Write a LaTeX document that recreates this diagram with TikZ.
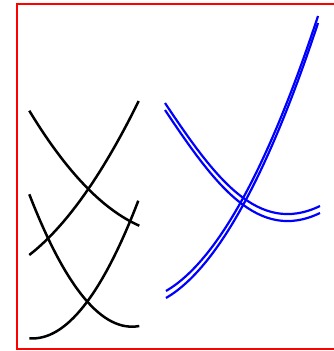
\documentclass[tikz,border=0pt]{standalone}
\begin{document}
\begin{tikzpicture}[x=1pt,y=-1pt,
  framestyle/.style={draw=red,line width=1.8pt},
  blackcurve/.style={draw=black,line width=2.5pt},
  bluecurve/.style={draw=blue,line width=2.2pt}]
\useasboundingbox (0,0) rectangle (334,351);
% frame (open to the right)
\draw[framestyle] (334,4.2) -- (16.8,4.2) -- (16.8,349.3) -- (334,349.3);
% black curves, upper X
\draw[blackcurve] (29.3,110.7) .. controls (65.97,171.3) and (102.63,209.63) .. (139.3,225.7);
\draw[blackcurve] (29.3,255) .. controls (65.77,226.53) and (102.23,175.2) .. (138.7,101);
% black curves, lower X
\draw[blackcurve] (29.3,194.3) .. controls (65.97,288.83) and (102.63,332.73) .. (139.3,326);
\draw[blackcurve] (29.3,338.3) .. controls (65.63,341.2) and (101.97,295.34) .. (138.3,200.7);
% blue curves, drawn twice with a vertical offset
\foreach \dy in {0pt,-7pt}{
  \begin{scope}[yshift=\dy]
    \draw[bluecurve] (165,103) .. controls (215,178) and (258,236) .. (320,206);
    \draw[bluecurve] (166,291) .. controls (216.67,261.33) and (267.33,169.67) .. (318,16);
  \end{scope}
}
\end{tikzpicture}
\end{document}
